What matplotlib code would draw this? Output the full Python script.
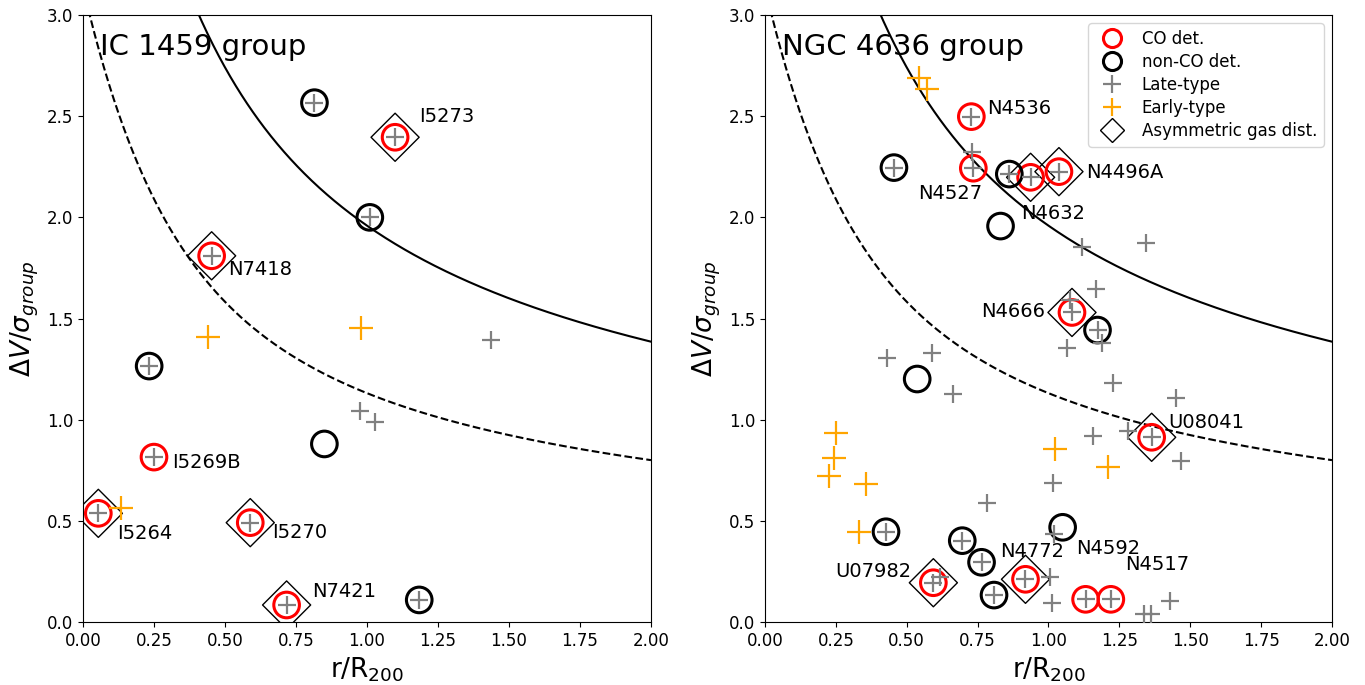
import numpy as np
import matplotlib.pyplot as plt
from matplotlib.lines import Line2D

# ---- IC 1459 group ----
ic_late_x = [0.815, 1.099, 1.01, 0.453, 1.437, 0.233, 0.975, 1.028, 0.25, 0.054, 0.589, 0.717, 1.184]
ic_late_y = [2.567, 2.396, 2.0, 1.81, 1.394, 1.265, 1.043, 0.99, 0.815, 0.537, 0.491, 0.084, 0.109]
ic_early_x = [0.439, 0.98, 0.133]
ic_early_y = [1.407, 1.452, 0.562]
ic_co_x = [1.099, 0.453, 0.25, 0.054, 0.589, 0.717]
ic_co_y = [2.396, 1.81, 0.815, 0.537, 0.491, 0.084]
ic_nonco_x = [0.815, 1.01, 0.233, 0.85, 1.184]
ic_nonco_y = [2.567, 2.0, 1.265, 0.88, 0.109]
ic_asym_x = [1.099, 0.453, 0.054, 0.589, 0.717]
ic_asym_y = [2.396, 1.81, 0.537, 0.491, 0.084]
ic_names = ['I5273', 'N7418', 'I5269B', 'I5264', 'I5270', 'N7421']
ic_name_x = [1.183, 0.511, 0.313, 0.120, 0.665, 0.806]
ic_name_y = [2.497, 1.740, 0.786, 0.435, 0.440, 0.153]

# ---- NGC 4636 group ----
ngc_late_x = [0.730, 0.728, 0.735, 0.455, 0.862, 0.937, 1.037, 1.117, 1.343, 1.168,
              1.076, 1.083, 1.173, 1.188, 1.066, 1.226, 1.45, 1.364, 1.28, 1.156,
              1.468, 1.017, 0.429, 0.588, 0.662, 0.782, 1.019, 0.427, 0.696, 0.764,
              0.594, 0.617, 0.808, 0.919, 1.005, 1.011, 1.131, 1.220, 1.43, 1.337, 1.361]
ngc_late_y = [2.325, 2.498, 2.243, 2.246, 2.214, 2.198, 2.226, 1.852, 1.875, 1.646,
              1.59, 1.53, 1.443, 1.38, 1.353, 1.183, 1.106, 0.913, 0.944, 0.919,
              0.796, 0.686, 1.307, 1.328, 1.127, 0.590, 0.436, 0.446, 0.402, 0.295,
              0.194, 0.224, 0.133, 0.211, 0.221, 0.092, 0.112, 0.112, 0.102, 0.04, 0.04]
ngc_early_x = [0.544, 0.570, 0.250, 0.243, 0.227, 0.356, 0.333, 1.023, 1.209]
ngc_early_y = [2.688, 2.633, 0.936, 0.809, 0.723, 0.682, 0.446, 0.854, 0.768]
ngc_co_x = [0.728, 0.735, 0.937, 1.037, 1.083, 1.364, 0.594, 0.919, 1.131, 1.220]
ngc_co_y = [2.498, 2.243, 2.198, 2.226, 1.53, 0.913, 0.194, 0.211, 0.112, 0.112]
ngc_nonco_x = [0.455, 0.862, 0.831, 1.173, 0.537, 1.05, 0.427, 0.696, 0.764, 0.808]
ngc_nonco_y = [2.246, 2.214, 1.957, 1.443, 1.201, 0.468, 0.446, 0.402, 0.295, 0.133]
ngc_asym_x = [0.937, 1.037, 1.083, 1.364, 0.594, 0.919]
ngc_asym_y = [2.198, 2.226, 1.53, 0.913, 0.194, 0.211]
ngc_names = ['N4536', 'N4527', 'N4632', 'N4496A', 'N4666', 'U08041', 'N4772', 'U07982', 'N4592', 'N4517']
ngc_name_x = [0.782, 0.541, 0.903, 1.132, 0.988, 1.423, 0.831, 0.517, 1.099, 1.271]
ngc_name_y = [2.539, 2.119, 2.017, 2.224, 1.534, 0.985, 0.348, 0.248, 0.361, 0.282]
ngc_name_ha = ['left', 'left', 'left', 'left', 'right', 'left', 'left', 'right', 'left', 'left']

# escape velocity curves (projected one dashed, solid = sqrt(3) times it)
A_esc = 1.28
a_core = 0.13
s = np.linspace(0.001, 2.0, 600)
v_proj = np.sqrt(A_esc * (1 - np.exp(-s / a_core)) / s)
v_full = np.sqrt(3) * v_proj

fig = plt.figure(figsize=(13.65, 6.85), dpi=100)
ax1 = fig.add_axes([0.0608, 0.092, 0.4161, 0.886])
ax2 = fig.add_axes([0.5604, 0.092, 0.4154, 0.886])


def draw_panel(ax, late, early, co, nonco, asym, names, title):
    ax.plot(s, v_full, color='black', lw=1.5)
    ax.plot(s, v_proj, color='black', lw=1.5, ls='--')
    ax.scatter(asym[0], asym[1], marker='D', s=600, facecolors='none', edgecolors='black', linewidths=1.0, zorder=3)
    ax.scatter(co[0], co[1], marker='o', s=340, facecolors='none', edgecolors='red', linewidths=2.2, zorder=4)
    ax.scatter(nonco[0], nonco[1], marker='o', s=340, facecolors='none', edgecolors='black', linewidths=2.2, zorder=4)
    ax.scatter(late[0], late[1], marker='+', s=170, color='gray', linewidths=1.6, zorder=5)
    ax.scatter(early[0], early[1], marker='+', s=290, color='orange', linewidths=1.6, zorder=5)
    for name, x, y, ha in zip(*names):
        ax.text(x, y, name, fontsize=14, ha=ha, va='center')
    ax.text(0.03, 0.948, title, transform=ax.transAxes, fontsize=21, ha='left', va='center')
    ax.set_xlim(0, 2)
    ax.set_ylim(0, 3)
    ax.set_xticks(np.arange(0, 2.01, 0.25))
    ax.set_xticklabels(['%.2f' % v for v in np.arange(0, 2.01, 0.25)])
    ax.set_yticks(np.arange(0, 3.01, 0.5))
    ax.tick_params(labelsize=12)
    ax.set_xlabel(r'r/R$_{200}$', fontsize=19)
    ax.set_ylabel(r'$\Delta V/\sigma_{group}$', fontsize=19)


draw_panel(ax1, (ic_late_x, ic_late_y), (ic_early_x, ic_early_y), (ic_co_x, ic_co_y),
           (ic_nonco_x, ic_nonco_y), (ic_asym_x, ic_asym_y),
           (ic_names, ic_name_x, ic_name_y, ['left'] * len(ic_names)), 'IC 1459 group')
draw_panel(ax2, (ngc_late_x, ngc_late_y), (ngc_early_x, ngc_early_y), (ngc_co_x, ngc_co_y),
           (ngc_nonco_x, ngc_nonco_y), (ngc_asym_x, ngc_asym_y),
           (ngc_names, ngc_name_x, ngc_name_y, ngc_name_ha), 'NGC 4636 group')

handles = [
    Line2D([], [], ls='none', marker='o', ms=13, mfc='none', mec='red', mew=2.2),
    Line2D([], [], ls='none', marker='o', ms=13, mfc='none', mec='black', mew=2.2),
    Line2D([], [], ls='none', marker='+', ms=13, color='gray', mew=1.6),
    Line2D([], [], ls='none', marker='+', ms=13, color='orange', mew=1.6),
    Line2D([], [], ls='none', marker='D', ms=12, mfc='none', mec='black', mew=1.0),
]
labels = ['CO det.', 'non-CO det.', 'Late-type', 'Early-type', 'Asymmetric gas dist.']
ax2.legend(handles, labels, loc='upper right', fontsize=12, handletextpad=0.8, labelspacing=0.3)

fig.savefig('out.png', dpi=100)
